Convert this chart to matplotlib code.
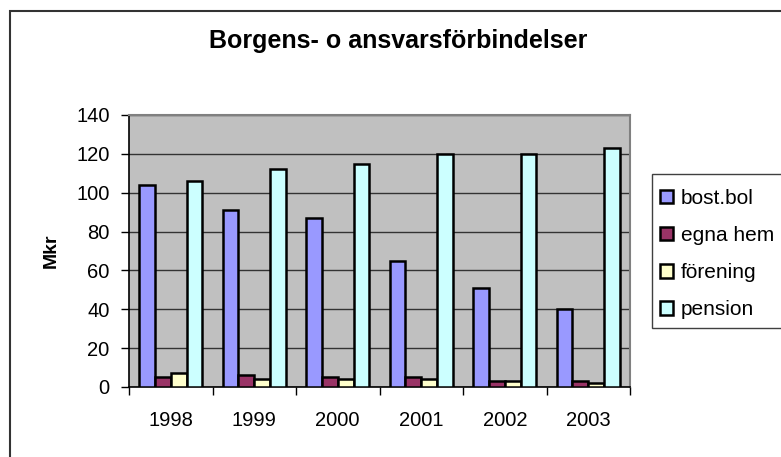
import numpy as np
import matplotlib.pyplot as plt
from matplotlib.patches import Rectangle

plt.rcParams['font.family'] = ['Liberation Sans', 'DejaVu Sans']

years = ['1998', '1999', '2000', '2001', '2002', '2003']
series = ['bost.bol', 'egna hem', 'förening', 'pension']
bost_bol = [104, 91, 87, 65, 51, 40]
egna_hem = [5, 6, 5, 5, 3, 3]
forening = [7, 4, 4, 4, 3, 2]
pension = [106, 112, 115, 120, 120, 123]
colors = ['#9999FF', '#993366', '#FFFFCC', '#CCFFFF']

W, H = 781, 457
fig = plt.figure(figsize=(W / 100, H / 100), dpi=100)
ax = fig.add_axes([129 / W, 1 - 387 / H, (630 - 129) / W, (387 - 115) / H])
ax.set_facecolor('#C0C0C0')

x = np.arange(len(years))
bw = 0.189
for i, (vals, c, name) in enumerate(zip([bost_bol, egna_hem, forening, pension], colors, series)):
    ax.bar(x + (i - 1.5) * bw, vals, bw, color=c, edgecolor='black', linewidth=1.8,
           label=name, zorder=3)

ax.set_xlim(-0.5, len(years) - 0.5)
ax.set_ylim(0, 140)
ax.set_yticks(np.arange(0, 141, 20))
ax.yaxis.grid(True, color='#333333', linewidth=1.0, zorder=1)
ax.set_axisbelow(True)

ax.set_xticks(x)
ax.set_xticklabels(years)
ax.set_xticks(np.arange(-0.5, len(years)), minor=True)
ax.tick_params(axis='x', which='major', length=0, pad=17, labelsize=14.5)
ax.tick_params(axis='x', which='minor', length=6, width=1, direction='out')
ax.tick_params(axis='y', length=6, width=1, direction='out', pad=8, labelsize=14.5)

for s in ['top', 'right']:
    ax.spines[s].set_color('#808080')
    ax.spines[s].set_linewidth(1.5)
for s in ['left', 'bottom']:
    ax.spines[s].set_color('black')
    ax.spines[s].set_linewidth(1.2)

ax.set_ylabel('Mkr', fontsize=14, fontweight='bold', labelpad=12)

fig.text(398 / W, 1 - 41 / H, 'Borgens- o ansvarsförbindelser', ha='center', va='center',
         fontsize=18, fontweight='bold')

# legend box drawn separately (behind the axes), entries placed inside it without a frame
fig.patches.append(Rectangle((652 / W, 1 - 328 / H), 0.2, (328 - 174) / H,
                             transform=fig.transFigure, facecolor='white',
                             edgecolor='#404040', linewidth=1.0, zorder=-1))
leg = ax.legend(loc='upper left', bbox_to_anchor=(660 / W, 1 - 189 / H),
                bbox_transform=fig.transFigure, fontsize=15, frameon=False,
                handlelength=0.6, handleheight=0.6, handletextpad=0.4,
                labelspacing=0.87, borderpad=0, borderaxespad=0)

# outer chart border (cut off at the right and bottom)
fig.patches.append(Rectangle((10 / W, -0.05), 1.1, 1 - 11 / H + 0.05, transform=fig.transFigure,
                             fill=False, edgecolor='#333333', linewidth=1.5, zorder=-1))

fig.savefig('out.png', dpi=100)
